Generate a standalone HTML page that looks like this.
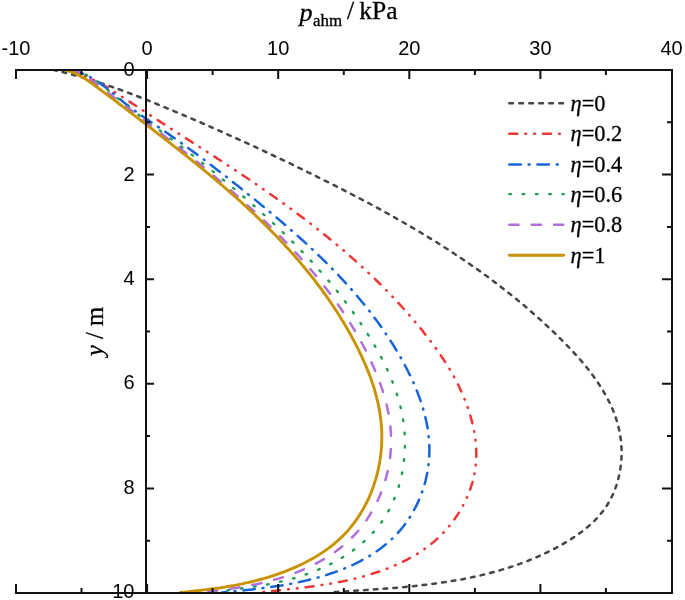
<!DOCTYPE html><html><head><meta charset="utf-8"><style>html,body{margin:0;padding:0;background:#fff;width:685px;height:600px;overflow:hidden}svg{display:block}</style></head><body>
<svg width="685" height="600" viewBox="0 0 685 600">
<rect width="685" height="600" fill="#fff"/>
<defs><clipPath id="cp"><rect x="0" y="69" width="673" height="524"/></clipPath></defs>
<g clip-path="url(#cp)" fill="none" stroke-linecap="round" stroke-linejoin="round">
<path d="M53.0 69.9 L56.5 70.7 L60.0 71.5 L63.5 72.3 L66.9 73.2 L70.4 74.1 L73.8 75.0 L77.3 76.0 L80.7 76.9 L84.2 77.9 L87.6 78.9 L91.0 80.0 L94.4 81.0 L97.8 82.1 L101.2 83.2 L104.5 84.3 L107.9 85.5 L111.3 86.6 L114.6 87.8 L118.0 89.0 L121.4 90.2 L124.7 91.5 L128.0 92.7 L131.4 94.0 L134.7 95.2 L138.0 96.5 L141.4 97.8 L144.7 99.1 L148.0 100.4 L151.3 101.8 L154.6 103.1 L157.9 104.5 L161.2 105.8 L164.5 107.2 L167.8 108.6 L171.1 109.9 L174.4 111.3 L177.7 112.7 L181.0 114.1 L184.3 115.5 L187.5 116.9 L190.8 118.3 L194.1 119.7 L197.4 121.1 L200.7 122.5 L203.9 124.0 L207.2 125.4 L210.5 126.8 L213.8 128.3 L217.0 129.7 L220.3 131.2 L223.6 132.6 L226.8 134.1 L230.1 135.6 L233.3 137.0 L236.6 138.5 L239.9 140.0 L243.1 141.5 L246.4 142.9 L249.6 144.4 L252.9 145.9 L256.1 147.4 L259.3 148.9 L262.6 150.5 L265.8 152.0 L269.1 153.5 L272.3 155.0 L275.5 156.5 L278.7 158.1 L282.0 159.6 L285.2 161.1 L288.4 162.7 L291.6 164.2 L294.8 165.8 L298.1 167.4 L301.3 168.9 L304.5 170.5 L307.7 172.1 L310.9 173.6 L314.1 175.2 L317.3 176.8 L320.5 178.4 L323.7 180.0 L326.9 181.6 L330.0 183.2 L333.2 184.8 L336.4 186.4 L339.6 188.0 L342.7 189.6 L345.9 191.3 L349.1 192.9 L352.2 194.5 L355.4 196.2 L358.6 197.8 L361.7 199.5 L364.9 201.2 L368.0 202.8 L371.1 204.5 L374.3 206.2 L377.4 207.9 L380.5 209.6 L383.6 211.3 L386.7 213.0 L389.8 214.8 L393.0 216.5 L396.0 218.3 L399.1 220.0 L402.2 221.8 L405.3 223.5 L408.4 225.3 L411.4 227.1 L414.5 228.9 L417.6 230.7 L420.6 232.5 L423.7 234.4 L426.7 236.2 L429.7 238.1 L432.7 239.9 L435.8 241.8 L438.8 243.7 L441.8 245.6 L444.8 247.5 L447.8 249.4 L450.7 251.4 L453.7 253.3 L456.7 255.3 L459.6 257.2 L462.6 259.2 L465.5 261.2 L468.5 263.2 L471.4 265.2 L474.3 267.3 L477.2 269.3 L480.1 271.4 L483.0 273.5 L485.9 275.6 L488.8 277.7 L491.6 279.8 L494.5 281.9 L497.3 284.1 L500.2 286.3 L503.0 288.5 L505.8 290.7 L508.6 292.9 L511.4 295.1 L514.2 297.4 L517.0 299.6 L519.7 301.9 L522.5 304.2 L525.3 306.5 L528.0 308.9 L530.7 311.2 L533.4 313.6 L536.1 316.0 L538.8 318.4 L541.5 320.8 L544.2 323.2 L546.8 325.7 L549.5 328.2 L552.1 330.7 L554.8 333.2 L557.4 335.7 L560.0 338.3 L562.6 340.9 L565.1 343.5 L567.7 346.1 L570.2 348.7 L572.7 351.4 L575.2 354.1 L577.6 356.8 L580.0 359.5 L582.4 362.2 L584.7 365.0 L587.0 367.8 L589.2 370.6 L591.4 373.5 L593.5 376.3 L595.6 379.2 L597.6 382.2 L599.6 385.1 L601.4 388.1 L603.3 391.1 L605.0 394.1 L606.7 397.1 L608.3 400.2 L609.9 403.3 L611.3 406.5 L612.7 409.6 L614.0 412.8 L615.2 416.0 L616.3 419.3 L617.3 422.6 L618.2 425.9 L619.0 429.2 L619.7 432.6 L620.3 436.0 L620.8 439.4 L621.2 442.9 L621.4 446.4 L621.6 449.9 L621.6 453.4 L621.5 457.0 L621.3 460.6 L620.9 464.2 L620.5 467.7 L619.9 471.3 L619.2 474.9 L618.4 478.4 L617.5 481.9 L616.4 485.3 L615.2 488.7 L613.9 492.1 L612.5 495.3 L610.9 498.5 L609.2 501.7 L607.4 504.7 L605.4 507.7 L603.4 510.6 L601.2 513.3 L598.9 516.0 L596.5 518.7 L594.0 521.2 L591.4 523.7 L588.8 526.0 L586.0 528.3 L583.2 530.6 L580.3 532.8 L577.4 534.9 L574.4 536.9 L571.4 538.9 L568.3 540.8 L565.2 542.7 L562.0 544.5 L558.9 546.3 L555.7 548.0 L552.5 549.7 L549.3 551.3 L546.1 552.8 L542.9 554.4 L539.6 555.9 L536.4 557.3 L533.1 558.7 L529.8 560.0 L526.5 561.4 L523.2 562.6 L519.8 563.9 L516.5 565.0 L513.1 566.2 L509.7 567.3 L506.4 568.4 L503.0 569.4 L499.6 570.4 L496.1 571.4 L492.7 572.3 L489.3 573.2 L485.8 574.1 L482.4 574.9 L478.9 575.8 L475.4 576.5 L471.9 577.3 L468.4 578.0 L464.9 578.7 L461.4 579.4 L457.9 580.0 L454.4 580.6 L450.9 581.2 L447.4 581.8 L443.8 582.3 L440.3 582.8 L436.7 583.3 L433.2 583.8 L429.6 584.3 L426.1 584.7 L422.5 585.1 L418.9 585.5 L415.4 585.9 L411.8 586.3 L408.2 586.6 L404.7 587.0 L401.1 587.3 L397.5 587.6 L394.0 587.9 L390.4 588.2 L386.8 588.5 L383.2 588.8 L379.7 589.1 L376.1 589.3 L372.5 589.6 L369.0 589.8 L365.4 590.1 L361.9 590.3 L358.3 590.5 L354.8 590.7 L351.2 591.0 L347.7 591.2 L344.1 591.4 L340.6 591.6 L337.1 591.9 L333.5 592.1 L330.0 592.3" stroke="#454545" stroke-width="2.5" stroke-dasharray="3.7 6.1"/>
<path d="M70.0 70.3 L72.8 71.2 L75.6 72.1 L78.3 73.1 L81.0 74.1 L83.6 75.2 L86.3 76.4 L88.9 77.6 L91.5 78.8 L94.0 80.1 L96.6 81.4 L99.1 82.8 L101.6 84.2 L104.1 85.6 L106.6 87.1 L109.1 88.6 L111.5 90.1 L114.0 91.6 L116.4 93.2 L118.9 94.7 L121.3 96.3 L123.7 97.8 L126.2 99.4 L128.6 101.0 L131.0 102.6 L133.4 104.2 L135.9 105.8 L138.3 107.4 L140.7 109.0 L143.1 110.5 L145.6 112.1 L148.0 113.7 L150.4 115.3 L152.8 116.9 L155.3 118.5 L157.7 120.1 L160.1 121.6 L162.5 123.2 L165.0 124.8 L167.4 126.4 L169.8 127.9 L172.3 129.5 L174.7 131.1 L177.1 132.6 L179.6 134.2 L182.0 135.7 L184.4 137.3 L186.8 138.9 L189.3 140.4 L191.7 142.0 L194.1 143.5 L196.6 145.1 L199.0 146.6 L201.4 148.2 L203.9 149.8 L206.3 151.3 L208.7 152.9 L211.2 154.5 L213.6 156.0 L216.0 157.6 L218.4 159.2 L220.9 160.7 L223.3 162.3 L225.7 163.9 L228.1 165.5 L230.5 167.1 L232.9 168.7 L235.4 170.3 L237.8 171.9 L240.2 173.5 L242.6 175.1 L245.0 176.7 L247.4 178.3 L249.8 179.9 L252.2 181.5 L254.6 183.2 L257.0 184.8 L259.4 186.4 L261.7 188.1 L264.1 189.7 L266.5 191.4 L268.9 193.1 L271.2 194.7 L273.6 196.4 L276.0 198.1 L278.3 199.8 L280.7 201.4 L283.0 203.1 L285.4 204.8 L287.7 206.5 L290.1 208.2 L292.4 210.0 L294.7 211.7 L297.1 213.4 L299.4 215.2 L301.7 216.9 L304.0 218.6 L306.3 220.4 L308.6 222.2 L310.9 223.9 L313.2 225.7 L315.4 227.5 L317.7 229.3 L320.0 231.1 L322.3 232.9 L324.5 234.7 L326.8 236.5 L329.0 238.3 L331.2 240.2 L333.5 242.0 L335.7 243.9 L337.9 245.7 L340.1 247.6 L342.3 249.4 L344.5 251.3 L346.7 253.2 L348.9 255.1 L351.0 257.0 L353.2 258.9 L355.4 260.8 L357.5 262.8 L359.7 264.7 L361.8 266.6 L363.9 268.6 L366.0 270.6 L368.1 272.5 L370.2 274.5 L372.3 276.5 L374.4 278.5 L376.5 280.5 L378.5 282.5 L380.6 284.5 L382.6 286.6 L384.7 288.6 L386.7 290.7 L388.7 292.7 L390.7 294.8 L392.7 296.9 L394.7 299.0 L396.6 301.1 L398.6 303.2 L400.6 305.3 L402.5 307.5 L404.4 309.6 L406.4 311.7 L408.3 313.9 L410.2 316.1 L412.1 318.3 L413.9 320.5 L415.8 322.7 L417.7 324.9 L419.5 327.1 L421.3 329.3 L423.1 331.6 L424.9 333.9 L426.7 336.1 L428.5 338.4 L430.3 340.7 L432.0 343.0 L433.7 345.4 L435.4 347.7 L437.1 350.0 L438.8 352.4 L440.4 354.8 L442.0 357.2 L443.6 359.6 L445.2 362.0 L446.7 364.5 L448.3 366.9 L449.8 369.4 L451.2 371.9 L452.7 374.4 L454.1 377.0 L455.4 379.5 L456.8 382.1 L458.1 384.7 L459.4 387.3 L460.6 389.9 L461.8 392.6 L463.0 395.3 L464.1 398.0 L465.2 400.7 L466.2 403.4 L467.3 406.2 L468.2 408.9 L469.1 411.7 L470.0 414.5 L470.8 417.3 L471.6 420.2 L472.3 423.0 L473.0 425.9 L473.6 428.7 L474.2 431.6 L474.7 434.5 L475.1 437.3 L475.5 440.2 L475.8 443.1 L476.0 446.0 L476.2 448.8 L476.3 451.7 L476.3 454.6 L476.2 457.4 L476.1 460.3 L475.9 463.2 L475.6 466.0 L475.2 468.8 L474.8 471.6 L474.3 474.4 L473.7 477.2 L473.0 480.0 L472.3 482.8 L471.4 485.5 L470.6 488.2 L469.6 490.9 L468.6 493.6 L467.5 496.2 L466.3 498.9 L465.1 501.5 L463.8 504.0 L462.5 506.6 L461.0 509.1 L459.6 511.5 L458.1 514.0 L456.5 516.4 L454.8 518.8 L453.1 521.1 L451.4 523.4 L449.6 525.6 L447.7 527.9 L445.8 530.0 L443.9 532.2 L441.9 534.2 L439.8 536.3 L437.8 538.2 L435.6 540.2 L433.5 542.1 L431.3 543.9 L429.0 545.7 L426.7 547.4 L424.4 549.1 L422.0 550.7 L419.6 552.3 L417.2 553.9 L414.7 555.4 L412.3 556.8 L409.7 558.2 L407.2 559.6 L404.6 560.9 L402.0 562.2 L399.4 563.4 L396.7 564.6 L394.1 565.8 L391.4 566.9 L388.7 568.0 L385.9 569.1 L383.2 570.1 L380.4 571.1 L377.7 572.0 L374.9 572.9 L372.1 573.8 L369.3 574.7 L366.4 575.5 L363.6 576.3 L360.8 577.1 L357.9 577.8 L355.1 578.5 L352.2 579.2 L349.4 579.8 L346.5 580.5 L343.7 581.1 L340.8 581.7 L338.0 582.2 L335.1 582.8 L332.3 583.3 L329.5 583.8 L326.6 584.3 L323.8 584.7 L320.9 585.2 L318.1 585.6 L315.3 586.0 L312.4 586.4 L309.6 586.8 L306.7 587.2 L303.9 587.5 L301.1 587.9 L298.2 588.2 L295.4 588.6 L292.5 588.9 L289.7 589.2 L286.8 589.5 L283.9 589.8 L281.1 590.1 L278.2 590.4 L275.3 590.7 L272.5 591.0 L269.6 591.3 L266.7 591.6 L263.8 591.9 L260.9 592.2 L258.0 592.5" stroke="#ee3535" stroke-width="2.5" stroke-dasharray="8 8.1 0.7 8.1 0.7 8.1"/>
<path d="M72.0 70.4 L74.7 71.0 L77.4 71.8 L80.0 72.6 L82.5 73.5 L85.0 74.6 L87.5 75.8 L89.9 77.0 L92.3 78.3 L94.6 79.7 L96.9 81.2 L99.2 82.7 L101.4 84.3 L103.6 85.9 L105.8 87.6 L108.0 89.3 L110.1 91.0 L112.3 92.8 L114.4 94.5 L116.5 96.3 L118.6 98.1 L120.7 99.8 L122.8 101.5 L124.9 103.2 L127.1 104.9 L129.2 106.5 L131.3 108.2 L133.5 109.8 L135.6 111.3 L137.8 112.9 L140.0 114.5 L142.2 116.0 L144.5 117.6 L146.7 119.1 L149.0 120.6 L151.2 122.2 L153.5 123.7 L155.8 125.3 L158.0 126.8 L160.3 128.4 L162.6 129.9 L164.8 131.5 L167.1 133.0 L169.4 134.6 L171.6 136.2 L173.9 137.8 L176.1 139.3 L178.3 140.9 L180.6 142.5 L182.8 144.1 L185.0 145.7 L187.3 147.3 L189.5 149.0 L191.7 150.6 L193.9 152.2 L196.1 153.8 L198.3 155.5 L200.5 157.1 L202.7 158.7 L204.9 160.4 L207.1 162.0 L209.3 163.7 L211.5 165.4 L213.6 167.0 L215.8 168.7 L218.0 170.4 L220.2 172.0 L222.3 173.7 L224.5 175.4 L226.7 177.1 L228.8 178.8 L231.0 180.5 L233.1 182.2 L235.3 183.9 L237.4 185.6 L239.6 187.3 L241.7 189.0 L243.9 190.7 L246.0 192.4 L248.1 194.2 L250.3 195.9 L252.4 197.6 L254.5 199.3 L256.7 201.1 L258.8 202.8 L260.9 204.6 L263.0 206.3 L265.2 208.0 L267.3 209.8 L269.4 211.6 L271.5 213.3 L273.6 215.1 L275.7 216.8 L277.8 218.6 L279.9 220.4 L282.0 222.2 L284.1 224.0 L286.1 225.8 L288.2 227.6 L290.3 229.4 L292.3 231.2 L294.4 233.0 L296.4 234.8 L298.5 236.6 L300.5 238.5 L302.6 240.3 L304.6 242.1 L306.6 244.0 L308.6 245.9 L310.6 247.7 L312.6 249.6 L314.6 251.5 L316.6 253.4 L318.6 255.3 L320.5 257.2 L322.5 259.1 L324.5 261.0 L326.4 262.9 L328.3 264.8 L330.3 266.8 L332.2 268.7 L334.1 270.7 L336.0 272.6 L337.9 274.6 L339.7 276.6 L341.6 278.6 L343.5 280.6 L345.3 282.6 L347.1 284.6 L349.0 286.7 L350.8 288.7 L352.6 290.8 L354.4 292.8 L356.2 294.9 L357.9 297.0 L359.7 299.1 L361.4 301.2 L363.2 303.3 L364.9 305.4 L366.6 307.5 L368.3 309.7 L370.0 311.8 L371.7 314.0 L373.3 316.2 L375.0 318.4 L376.6 320.6 L378.2 322.8 L379.8 325.0 L381.4 327.3 L383.0 329.5 L384.5 331.8 L386.1 334.1 L387.6 336.3 L389.1 338.6 L390.6 341.0 L392.1 343.3 L393.6 345.6 L395.0 348.0 L396.5 350.4 L397.9 352.7 L399.3 355.1 L400.7 357.6 L402.0 360.0 L403.4 362.4 L404.7 364.9 L406.0 367.3 L407.3 369.8 L408.5 372.3 L409.8 374.8 L411.0 377.3 L412.1 379.8 L413.3 382.3 L414.4 384.9 L415.5 387.4 L416.5 390.0 L417.6 392.6 L418.5 395.1 L419.5 397.7 L420.4 400.3 L421.3 402.9 L422.1 405.5 L422.9 408.1 L423.7 410.8 L424.4 413.4 L425.0 416.0 L425.7 418.7 L426.3 421.3 L426.8 424.0 L427.3 426.6 L427.7 429.3 L428.1 432.0 L428.5 434.7 L428.7 437.3 L429.0 440.0 L429.2 442.7 L429.3 445.4 L429.4 448.1 L429.4 450.8 L429.3 453.5 L429.2 456.2 L429.1 458.9 L428.9 461.6 L428.6 464.3 L428.2 467.0 L427.8 469.7 L427.4 472.4 L426.8 475.1 L426.2 477.8 L425.6 480.5 L424.9 483.2 L424.1 485.8 L423.3 488.5 L422.4 491.1 L421.5 493.7 L420.5 496.3 L419.4 498.8 L418.3 501.4 L417.2 503.9 L416.0 506.4 L414.7 508.8 L413.4 511.3 L412.0 513.7 L410.6 516.0 L409.1 518.3 L407.6 520.6 L406.0 522.9 L404.4 525.1 L402.7 527.3 L401.0 529.4 L399.2 531.4 L397.4 533.5 L395.5 535.4 L393.6 537.4 L391.6 539.2 L389.7 541.1 L387.6 542.9 L385.5 544.6 L383.4 546.3 L381.3 548.0 L379.1 549.6 L376.8 551.2 L374.6 552.7 L372.3 554.2 L370.0 555.7 L367.6 557.1 L365.2 558.4 L362.8 559.8 L360.4 561.1 L357.9 562.3 L355.5 563.6 L353.0 564.8 L350.4 565.9 L347.9 567.0 L345.3 568.1 L342.8 569.2 L340.2 570.2 L337.6 571.2 L335.0 572.1 L332.3 573.0 L329.7 573.9 L327.0 574.8 L324.4 575.6 L321.7 576.4 L319.1 577.2 L316.4 577.9 L313.7 578.6 L311.1 579.3 L308.4 580.0 L305.7 580.6 L303.1 581.2 L300.4 581.8 L297.7 582.4 L295.1 583.0 L292.4 583.5 L289.7 584.0 L287.1 584.5 L284.4 584.9 L281.7 585.4 L279.1 585.8 L276.4 586.2 L273.7 586.6 L271.1 587.0 L268.4 587.4 L265.7 587.7 L263.0 588.1 L260.3 588.4 L257.6 588.8 L254.9 589.1 L252.2 589.4 L249.5 589.7 L246.8 590.0 L244.1 590.3 L241.3 590.6 L238.6 590.8 L235.8 591.1 L233.1 591.4 L230.3 591.7 L227.6 591.9 L224.8 592.2 L222.0 592.5" stroke="#1565d8" stroke-width="2.5" stroke-dasharray="11.5 7.8 1 7.8"/>
<path d="M73.0 70.5 L75.7 71.1 L78.3 71.7 L80.8 72.5 L83.2 73.5 L85.6 74.6 L87.9 75.7 L90.1 77.0 L92.4 78.4 L94.5 79.8 L96.7 81.3 L98.8 82.8 L100.9 84.4 L103.0 86.1 L105.1 87.7 L107.1 89.4 L109.2 91.1 L111.2 92.8 L113.3 94.5 L115.3 96.2 L117.3 98.0 L119.4 99.7 L121.4 101.4 L123.5 103.0 L125.6 104.7 L127.6 106.4 L129.7 108.0 L131.8 109.6 L133.9 111.3 L136.0 112.9 L138.1 114.5 L140.2 116.1 L142.4 117.6 L144.5 119.2 L146.6 120.8 L148.7 122.4 L150.8 123.9 L153.0 125.5 L155.1 127.1 L157.2 128.6 L159.4 130.2 L161.5 131.8 L163.6 133.4 L165.7 134.9 L167.9 136.5 L170.0 138.1 L172.1 139.7 L174.2 141.3 L176.3 142.9 L178.4 144.5 L180.6 146.1 L182.7 147.7 L184.8 149.3 L186.9 150.9 L189.0 152.5 L191.1 154.2 L193.2 155.8 L195.3 157.4 L197.4 159.0 L199.5 160.7 L201.6 162.3 L203.6 164.0 L205.7 165.6 L207.8 167.3 L209.9 168.9 L212.0 170.6 L214.0 172.3 L216.1 173.9 L218.2 175.6 L220.2 177.3 L222.3 179.0 L224.3 180.6 L226.4 182.3 L228.4 184.0 L230.5 185.7 L232.5 187.4 L234.6 189.1 L236.6 190.8 L238.6 192.6 L240.6 194.3 L242.7 196.0 L244.7 197.7 L246.7 199.5 L248.7 201.2 L250.7 202.9 L252.7 204.7 L254.7 206.4 L256.7 208.2 L258.7 210.0 L260.7 211.7 L262.6 213.5 L264.6 215.3 L266.6 217.1 L268.5 218.9 L270.5 220.6 L272.4 222.4 L274.4 224.3 L276.3 226.1 L278.2 227.9 L280.1 229.7 L282.0 231.5 L284.0 233.4 L285.9 235.2 L287.8 237.1 L289.6 238.9 L291.5 240.8 L293.4 242.7 L295.3 244.5 L297.1 246.4 L299.0 248.3 L300.8 250.2 L302.6 252.1 L304.5 254.0 L306.3 255.9 L308.1 257.9 L309.9 259.8 L311.7 261.7 L313.5 263.7 L315.3 265.6 L317.0 267.6 L318.8 269.6 L320.6 271.6 L322.3 273.5 L324.0 275.5 L325.8 277.5 L327.5 279.6 L329.2 281.6 L330.9 283.6 L332.6 285.6 L334.2 287.7 L335.9 289.7 L337.6 291.8 L339.2 293.9 L340.8 296.0 L342.5 298.1 L344.1 300.2 L345.7 302.3 L347.3 304.4 L348.9 306.5 L350.4 308.7 L352.0 310.8 L353.5 313.0 L355.1 315.1 L356.6 317.3 L358.1 319.5 L359.6 321.7 L361.1 323.9 L362.6 326.1 L364.1 328.4 L365.5 330.6 L367.0 332.9 L368.4 335.1 L369.8 337.4 L371.2 339.7 L372.6 342.0 L374.0 344.3 L375.3 346.6 L376.6 348.9 L377.9 351.2 L379.2 353.6 L380.5 355.9 L381.7 358.3 L382.9 360.7 L384.1 363.0 L385.3 365.4 L386.5 367.8 L387.6 370.2 L388.7 372.7 L389.7 375.1 L390.8 377.5 L391.8 380.0 L392.8 382.5 L393.7 384.9 L394.6 387.4 L395.5 389.9 L396.3 392.4 L397.1 394.9 L397.9 397.4 L398.7 400.0 L399.4 402.5 L400.0 405.1 L400.7 407.6 L401.2 410.2 L401.8 412.8 L402.3 415.3 L402.8 417.9 L403.2 420.6 L403.6 423.2 L403.9 425.8 L404.2 428.4 L404.4 431.1 L404.6 433.7 L404.8 436.4 L404.9 439.0 L404.9 441.7 L404.9 444.4 L404.9 447.0 L404.8 449.7 L404.7 452.4 L404.5 455.0 L404.3 457.7 L404.0 460.3 L403.7 463.0 L403.4 465.6 L403.0 468.3 L402.5 470.9 L402.0 473.5 L401.5 476.1 L400.9 478.7 L400.2 481.3 L399.5 483.8 L398.8 486.4 L398.0 488.9 L397.1 491.4 L396.3 493.9 L395.3 496.4 L394.3 498.8 L393.3 501.2 L392.2 503.6 L391.1 506.0 L389.9 508.3 L388.7 510.7 L387.4 512.9 L386.1 515.2 L384.7 517.4 L383.3 519.6 L381.8 521.8 L380.3 523.9 L378.7 526.0 L377.1 528.0 L375.4 530.0 L373.6 532.0 L371.9 533.9 L370.1 535.8 L368.2 537.7 L366.3 539.5 L364.3 541.3 L362.3 543.0 L360.3 544.7 L358.3 546.4 L356.2 548.0 L354.0 549.6 L351.9 551.2 L349.7 552.7 L347.4 554.2 L345.2 555.7 L342.9 557.1 L340.6 558.5 L338.3 559.8 L335.9 561.2 L333.5 562.4 L331.1 563.7 L328.7 564.9 L326.3 566.1 L323.8 567.2 L321.4 568.3 L318.9 569.4 L316.4 570.4 L313.9 571.4 L311.4 572.4 L308.8 573.3 L306.3 574.3 L303.8 575.1 L301.3 576.0 L298.7 576.8 L296.2 577.6 L293.6 578.3 L291.1 579.0 L288.6 579.7 L286.0 580.4 L283.5 581.0 L280.9 581.6 L278.4 582.2 L275.8 582.7 L273.2 583.3 L270.7 583.8 L268.1 584.3 L265.5 584.7 L263.0 585.2 L260.4 585.6 L257.8 586.0 L255.2 586.5 L252.6 586.9 L250.0 587.2 L247.5 587.6 L244.8 588.0 L242.2 588.3 L239.6 588.7 L237.0 589.0 L234.4 589.3 L231.8 589.6 L229.1 590.0 L226.5 590.3 L223.8 590.6 L221.2 590.9 L218.5 591.2 L215.8 591.5 L213.2 591.8 L210.5 592.2 L207.8 592.5" stroke="#1c9e55" stroke-width="2.4" stroke-dasharray="1.6 11.7"/>
<path d="M70.1 70.1 L72.6 70.5 L75.1 71.1 L77.6 71.9 L79.9 72.9 L82.2 74.0 L84.4 75.3 L86.6 76.6 L88.7 78.1 L90.8 79.6 L92.9 81.2 L95.0 82.8 L97.1 84.4 L99.1 86.0 L101.2 87.6 L103.3 89.2 L105.4 90.8 L107.5 92.4 L109.6 94.0 L111.6 95.6 L113.7 97.2 L115.8 98.8 L117.9 100.3 L120.0 101.9 L122.1 103.5 L124.2 105.1 L126.3 106.7 L128.4 108.3 L130.5 109.8 L132.5 111.4 L134.6 113.0 L136.7 114.6 L138.8 116.2 L140.9 117.8 L143.0 119.4 L145.0 120.9 L147.1 122.5 L149.2 124.1 L151.3 125.7 L153.3 127.3 L155.4 128.9 L157.5 130.5 L159.5 132.1 L161.6 133.7 L163.7 135.3 L165.7 136.9 L167.8 138.6 L169.8 140.2 L171.9 141.8 L173.9 143.4 L176.0 145.0 L178.0 146.6 L180.1 148.3 L182.1 149.9 L184.2 151.5 L186.2 153.2 L188.2 154.8 L190.3 156.4 L192.3 158.1 L194.3 159.7 L196.3 161.4 L198.4 163.0 L200.4 164.7 L202.4 166.3 L204.4 168.0 L206.4 169.7 L208.4 171.3 L210.4 173.0 L212.4 174.7 L214.4 176.3 L216.4 178.0 L218.4 179.7 L220.4 181.4 L222.4 183.1 L224.4 184.8 L226.4 186.5 L228.3 188.2 L230.3 189.9 L232.3 191.7 L234.3 193.4 L236.2 195.1 L238.2 196.8 L240.1 198.6 L242.1 200.3 L244.0 202.1 L246.0 203.8 L247.9 205.6 L249.9 207.4 L251.8 209.1 L253.7 210.9 L255.6 212.7 L257.6 214.5 L259.5 216.3 L261.4 218.1 L263.3 219.9 L265.2 221.7 L267.1 223.5 L269.0 225.3 L270.8 227.1 L272.7 229.0 L274.6 230.8 L276.4 232.7 L278.3 234.5 L280.1 236.4 L282.0 238.2 L283.8 240.1 L285.6 242.0 L287.5 243.9 L289.3 245.8 L291.1 247.7 L292.9 249.6 L294.6 251.5 L296.4 253.4 L298.2 255.3 L299.9 257.3 L301.7 259.2 L303.4 261.2 L305.2 263.1 L306.9 265.1 L308.6 267.1 L310.3 269.1 L312.0 271.0 L313.7 273.0 L315.3 275.1 L317.0 277.1 L318.7 279.1 L320.3 281.1 L321.9 283.2 L323.5 285.2 L325.1 287.3 L326.7 289.3 L328.3 291.4 L329.9 293.5 L331.5 295.6 L333.0 297.7 L334.5 299.8 L336.1 301.9 L337.6 304.1 L339.1 306.2 L340.5 308.3 L342.0 310.5 L343.5 312.7 L344.9 314.8 L346.3 317.0 L347.7 319.2 L349.1 321.4 L350.5 323.6 L351.9 325.9 L353.3 328.1 L354.6 330.4 L355.9 332.6 L357.2 334.9 L358.5 337.2 L359.8 339.4 L361.1 341.7 L362.3 344.0 L363.6 346.4 L364.8 348.7 L366.0 351.0 L367.2 353.4 L368.3 355.8 L369.5 358.1 L370.6 360.5 L371.7 362.9 L372.8 365.3 L373.9 367.7 L374.9 370.2 L376.0 372.6 L377.0 375.0 L377.9 377.5 L378.9 379.9 L379.8 382.4 L380.7 384.9 L381.5 387.4 L382.4 389.9 L383.2 392.4 L383.9 394.9 L384.7 397.4 L385.4 399.9 L386.0 402.4 L386.7 405.0 L387.3 407.5 L387.8 410.1 L388.3 412.6 L388.8 415.2 L389.2 417.7 L389.6 420.3 L390.0 422.9 L390.3 425.4 L390.5 428.0 L390.7 430.6 L390.9 433.2 L391.0 435.8 L391.1 438.4 L391.1 441.0 L391.1 443.6 L391.0 446.2 L390.9 448.8 L390.7 451.4 L390.5 454.0 L390.2 456.6 L389.9 459.2 L389.5 461.8 L389.1 464.3 L388.6 466.9 L388.1 469.5 L387.5 472.0 L386.9 474.6 L386.2 477.1 L385.5 479.6 L384.8 482.2 L384.0 484.7 L383.1 487.1 L382.2 489.6 L381.3 492.1 L380.3 494.5 L379.3 496.9 L378.2 499.3 L377.1 501.7 L376.0 504.0 L374.8 506.4 L373.5 508.7 L372.2 510.9 L370.9 513.2 L369.5 515.4 L368.1 517.6 L366.7 519.8 L365.2 521.9 L363.6 524.0 L362.0 526.1 L360.4 528.1 L358.8 530.1 L357.1 532.1 L355.3 534.1 L353.5 536.0 L351.7 537.8 L349.9 539.6 L348.0 541.4 L346.0 543.2 L344.1 544.9 L342.1 546.5 L340.0 548.2 L338.0 549.7 L335.9 551.3 L333.7 552.8 L331.6 554.3 L329.4 555.7 L327.2 557.1 L324.9 558.5 L322.7 559.9 L320.4 561.2 L318.1 562.4 L315.8 563.7 L313.4 564.9 L311.1 566.0 L308.7 567.2 L306.3 568.3 L303.9 569.3 L301.5 570.4 L299.0 571.4 L296.6 572.4 L294.1 573.3 L291.7 574.2 L289.2 575.1 L286.7 576.0 L284.3 576.8 L281.8 577.6 L279.3 578.4 L276.8 579.1 L274.3 579.8 L271.7 580.5 L269.2 581.2 L266.7 581.8 L264.2 582.4 L261.6 583.0 L259.1 583.6 L256.6 584.2 L254.0 584.7 L251.4 585.2 L248.9 585.7 L246.3 586.2 L243.8 586.6 L241.2 587.1 L238.6 587.5 L236.0 587.9 L233.4 588.3 L230.9 588.7 L228.3 589.1 L225.7 589.4 L223.1 589.7 L220.5 590.1 L217.9 590.4 L215.3 590.7 L212.7 591.0 L210.1 591.3 L207.5 591.6 L204.8 591.8 L202.2 592.1 L199.6 592.3 L197.0 592.6" stroke="#b06edd" stroke-width="2.5" stroke-dasharray="9.2 13.2"/>
<path d="M66.7 70.4 L69.2 71.2 L71.7 72.0 L74.1 73.0 L76.5 74.1 L78.8 75.2 L81.1 76.4 L83.3 77.7 L85.5 79.1 L87.7 80.5 L89.8 82.0 L92.0 83.5 L94.1 85.0 L96.2 86.6 L98.3 88.2 L100.4 89.7 L102.5 91.3 L104.7 92.9 L106.8 94.5 L108.9 96.0 L111.0 97.6 L113.1 99.2 L115.2 100.8 L117.3 102.4 L119.4 104.0 L121.5 105.6 L123.6 107.2 L125.6 108.8 L127.7 110.4 L129.8 112.0 L131.9 113.6 L134.0 115.2 L136.1 116.8 L138.2 118.4 L140.3 120.0 L142.4 121.6 L144.4 123.2 L146.5 124.8 L148.6 126.4 L150.7 128.0 L152.8 129.6 L154.9 131.3 L156.9 132.9 L159.0 134.5 L161.1 136.1 L163.2 137.7 L165.2 139.3 L167.3 140.9 L169.4 142.5 L171.4 144.2 L173.5 145.8 L175.6 147.4 L177.6 149.0 L179.7 150.6 L181.8 152.3 L183.8 153.9 L185.9 155.5 L187.9 157.1 L190.0 158.8 L192.0 160.4 L194.0 162.1 L196.1 163.7 L198.1 165.4 L200.1 167.0 L202.2 168.7 L204.2 170.3 L206.2 172.0 L208.2 173.7 L210.2 175.3 L212.3 177.0 L214.3 178.7 L216.3 180.4 L218.3 182.1 L220.3 183.8 L222.3 185.5 L224.2 187.2 L226.2 188.9 L228.2 190.6 L230.2 192.3 L232.1 194.1 L234.1 195.8 L236.1 197.5 L238.0 199.3 L240.0 201.0 L241.9 202.8 L243.8 204.6 L245.8 206.3 L247.7 208.1 L249.6 209.9 L251.5 211.7 L253.5 213.5 L255.4 215.3 L257.3 217.1 L259.2 219.0 L261.0 220.8 L262.9 222.6 L264.8 224.5 L266.6 226.3 L268.5 228.2 L270.4 230.0 L272.2 231.9 L274.0 233.8 L275.9 235.7 L277.7 237.6 L279.5 239.5 L281.3 241.4 L283.1 243.3 L284.9 245.2 L286.6 247.2 L288.4 249.1 L290.2 251.1 L291.9 253.0 L293.7 255.0 L295.4 257.0 L297.1 259.0 L298.8 260.9 L300.5 262.9 L302.2 264.9 L303.9 267.0 L305.6 269.0 L307.2 271.0 L308.9 273.1 L310.5 275.1 L312.1 277.2 L313.7 279.2 L315.4 281.3 L316.9 283.4 L318.5 285.5 L320.1 287.6 L321.7 289.7 L323.2 291.8 L324.7 293.9 L326.3 296.1 L327.8 298.2 L329.3 300.4 L330.7 302.5 L332.2 304.7 L333.7 306.9 L335.1 309.1 L336.6 311.3 L338.0 313.5 L339.4 315.7 L340.8 318.0 L342.1 320.2 L343.5 322.4 L344.8 324.7 L346.2 327.0 L347.5 329.2 L348.8 331.5 L350.1 333.8 L351.4 336.1 L352.6 338.5 L353.9 340.8 L355.1 343.1 L356.3 345.5 L357.5 347.8 L358.7 350.2 L359.8 352.6 L361.0 355.0 L362.1 357.3 L363.2 359.8 L364.3 362.2 L365.3 364.6 L366.3 367.0 L367.3 369.5 L368.3 371.9 L369.3 374.4 L370.2 376.8 L371.1 379.3 L371.9 381.8 L372.8 384.3 L373.6 386.8 L374.4 389.3 L375.1 391.8 L375.8 394.3 L376.5 396.8 L377.1 399.4 L377.7 401.9 L378.3 404.4 L378.8 407.0 L379.3 409.6 L379.7 412.1 L380.1 414.7 L380.5 417.3 L380.8 419.8 L381.1 422.4 L381.3 425.0 L381.5 427.6 L381.7 430.2 L381.8 432.9 L381.8 435.5 L381.8 438.1 L381.8 440.7 L381.7 443.3 L381.5 446.0 L381.4 448.6 L381.1 451.2 L380.9 453.8 L380.5 456.4 L380.2 459.0 L379.8 461.6 L379.3 464.2 L378.8 466.8 L378.3 469.4 L377.7 472.0 L377.0 474.5 L376.3 477.1 L375.6 479.6 L374.8 482.1 L374.0 484.6 L373.2 487.1 L372.3 489.6 L371.3 492.0 L370.3 494.5 L369.3 496.9 L368.2 499.3 L367.1 501.6 L365.9 504.0 L364.7 506.3 L363.4 508.6 L362.1 510.8 L360.8 513.1 L359.4 515.3 L358.0 517.5 L356.5 519.6 L355.0 521.7 L353.4 523.8 L351.8 525.9 L350.2 527.9 L348.5 529.9 L346.8 531.8 L345.0 533.7 L343.2 535.6 L341.3 537.4 L339.4 539.2 L337.5 540.9 L335.5 542.6 L333.5 544.3 L331.5 546.0 L329.4 547.6 L327.3 549.1 L325.1 550.6 L323.0 552.1 L320.8 553.6 L318.5 555.0 L316.3 556.4 L314.0 557.7 L311.7 559.0 L309.4 560.3 L307.0 561.6 L304.7 562.8 L302.3 564.0 L299.9 565.1 L297.4 566.3 L295.0 567.3 L292.6 568.4 L290.1 569.4 L287.6 570.4 L285.2 571.4 L282.7 572.3 L280.2 573.2 L277.7 574.1 L275.2 575.0 L272.7 575.8 L270.1 576.6 L267.6 577.4 L265.1 578.1 L262.6 578.8 L260.1 579.5 L257.6 580.2 L255.1 580.9 L252.5 581.5 L250.0 582.1 L247.5 582.7 L244.9 583.2 L242.4 583.8 L239.9 584.3 L237.3 584.8 L234.8 585.3 L232.2 585.8 L229.7 586.2 L227.1 586.6 L224.6 587.1 L222.0 587.5 L219.4 587.9 L216.9 588.2 L214.3 588.6 L211.7 588.9 L209.1 589.3 L206.5 589.6 L203.9 589.9 L201.3 590.3 L198.7 590.6 L196.1 590.8 L193.4 591.1 L190.8 591.4 L188.2 591.7 L185.5 592.0 L182.9 592.2 L180.2 592.5" stroke="#c89200" stroke-width="2.9"/>
</g>
<g stroke="#111" stroke-width="2" fill="none" stroke-linecap="butt">
<path d="M15.0 70.0 H672.0 V593.0 H15.0"/>
<path d="M146.0 70.0 V593.0"/>
<path d="M16.0 70.0 V79.0 M16.0 593.0 V584.0"/>
<path d="M81.5 70.0 V75.0 M81.5 593.0 V588.0"/>
<path d="M147.1 70.0 V79.0 M147.1 593.0 V584.0"/>
<path d="M212.6 70.0 V75.0 M212.6 593.0 V588.0"/>
<path d="M278.2 70.0 V79.0 M278.2 593.0 V584.0"/>
<path d="M343.8 70.0 V75.0 M343.8 593.0 V588.0"/>
<path d="M409.3 70.0 V79.0 M409.3 593.0 V584.0"/>
<path d="M474.9 70.0 V75.0 M474.9 593.0 V588.0"/>
<path d="M540.4 70.0 V79.0 M540.4 593.0 V584.0"/>
<path d="M605.9 70.0 V75.0 M605.9 593.0 V588.0"/>
<path d="M146.0 122.3 H150.0 M672.0 122.3 H667.0"/>
<path d="M146.0 174.6 H154.0 M672.0 174.6 H662.0"/>
<path d="M146.0 226.9 H150.0 M672.0 226.9 H667.0"/>
<path d="M146.0 279.2 H154.0 M672.0 279.2 H662.0"/>
<path d="M146.0 331.5 H150.0 M672.0 331.5 H667.0"/>
<path d="M146.0 383.8 H154.0 M672.0 383.8 H662.0"/>
<path d="M146.0 436.1 H150.0 M672.0 436.1 H667.0"/>
<path d="M146.0 488.4 H154.0 M672.0 488.4 H662.0"/>
<path d="M146.0 540.7 H150.0 M672.0 540.7 H667.0"/>
</g>
<g font-family="Liberation Sans, Arial, sans-serif" font-size="20" fill="#000" text-anchor="middle">
<text x="16.0" y="55">-10</text>
<text x="147.1" y="55">0</text>
<text x="278.2" y="55">10</text>
<text x="409.3" y="55">20</text>
<text x="540.4" y="55">30</text>
<text x="671.5" y="55">40</text>
</g>
<g font-family="Liberation Sans, Arial, sans-serif" font-size="20" fill="#000" text-anchor="end">
<text x="134.5" y="76.4">0</text>
<text x="134.5" y="180.7">2</text>
<text x="134.5" y="285.1">4</text>
<text x="134.5" y="389.4">6</text>
<text x="134.5" y="493.8">8</text>
<text x="134.5" y="598.1">10</text>
</g>
<g font-family="Liberation Serif, Times New Roman, serif" fill="#000" stroke="#000" stroke-width="0.3">
<text x="299.5" y="20.6" font-size="26" font-style="italic">p</text>
<text x="313" y="25.7" font-size="16.9">ahm</text>
<text x="347" y="19.3" font-size="25.5">/</text>
<text x="359.3" y="19.3" font-size="25.5">kPa</text>
</g>
<text font-family="Liberation Serif, Times New Roman, serif" font-size="24.5" fill="#000" stroke="#000" stroke-width="0.3" text-anchor="middle" transform="translate(103.3 331.5) rotate(-90)"><tspan font-style="italic">y</tspan> / m</text>
<g fill="none" stroke-linecap="round">
<path d="M509.3 103.3 H563.7" stroke="#454545" stroke-width="2.5" stroke-dasharray="3.7 6.3"/>
<path d="M509.3 133.8 H563.7" stroke="#ee3535" stroke-width="2.5" stroke-dasharray="8 8.1 0.7 8.1 0.7 8.1"/>
<path d="M509.3 164.6 H559.0" stroke="#1565d8" stroke-width="2.5" stroke-dasharray="11.5 7.8 1 7.8"/>
<path d="M509.3 194.1 H563.7" stroke="#1c9e55" stroke-width="2.4" stroke-dasharray="1.6 11.7"/>
<path d="M509.3 224.7 H563.7" stroke="#b06edd" stroke-width="2.5" stroke-dasharray="9.2 13.2"/>
<path d="M509.3 255.2 H563.7" stroke="#c89200" stroke-width="2.9"/>
</g>
<g font-family="Liberation Serif, Times New Roman, serif" font-size="22.4" fill="#000" stroke="#000" stroke-width="0.3">
<text x="570.6" y="110.9"><tspan font-style="italic">η</tspan>=0</text>
<text x="570.6" y="141.4"><tspan font-style="italic">η</tspan>=0.2</text>
<text x="570.6" y="172.2"><tspan font-style="italic">η</tspan>=0.4</text>
<text x="570.6" y="201.7"><tspan font-style="italic">η</tspan>=0.6</text>
<text x="570.6" y="232.3"><tspan font-style="italic">η</tspan>=0.8</text>
<text x="570.6" y="262.8"><tspan font-style="italic">η</tspan>=1</text>
</g>
</svg></body></html>
